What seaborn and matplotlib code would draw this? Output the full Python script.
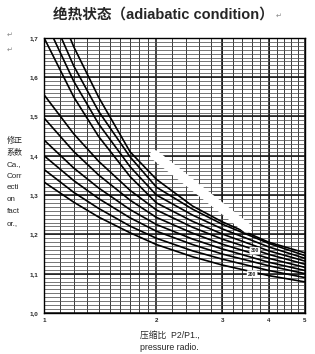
import numpy as np
import pandas as pd
import matplotlib
import matplotlib.pyplot as plt
import seaborn as sns
from matplotlib.ticker import FixedLocator, NullFormatter

matplotlib.use('Agg')

# pressure ratio P2/P1 where the curves were read
ratio = [1.0, 1.2, 1.4, 1.7, 2.0, 2.5, 3.0, 4.0, 5.0]

# correction factor curves (top to bottom)
curve_a = [1.860, 1.678, 1.549, 1.410, 1.340, 1.272, 1.232, 1.180, 1.153]
curve_b = [1.800, 1.629, 1.513, 1.397, 1.320, 1.264, 1.226, 1.177, 1.146]
curve_c = [1.750, 1.590, 1.481, 1.372, 1.300, 1.249, 1.214, 1.168, 1.139]
curve_d = [1.700, 1.550, 1.449, 1.347, 1.280, 1.233, 1.201, 1.158, 1.132]
curve_e = [1.555, 1.456, 1.386, 1.312, 1.262, 1.218, 1.188, 1.149, 1.124]
curve_f = [1.496, 1.411, 1.351, 1.287, 1.243, 1.203, 1.175, 1.139, 1.116]
curve_g = [1.440, 1.369, 1.318, 1.263, 1.225, 1.188, 1.163, 1.129, 1.108]
curve_h = [1.400, 1.337, 1.291, 1.242, 1.208, 1.174, 1.150, 1.120, 1.100]
curve_i = [1.365, 1.307, 1.266, 1.221, 1.190, 1.158, 1.137, 1.108, 1.090]
curve_j = [1.333, 1.282, 1.244, 1.204, 1.174, 1.143, 1.122, 1.095, 1.079]

curves = {'a': curve_a, 'b': curve_b, 'c': curve_c, 'd': curve_d, 'e': curve_e,
          'f': curve_f, 'g': curve_g, 'h': curve_h, 'i': curve_i, 'j': curve_j}

# little boxed labels on the curves
label_text = ['300', '200']
label_x = [3.67, 3.61]
label_y = [1.158, 1.099]

# white erased streak on the scan
streak_x = [1.98, 3.50]
streak_y = [1.402, 1.216]

x_ticks = [1, 2, 3, 4, 5]
y_ticks = [1.0, 1.1, 1.2, 1.3, 1.4, 1.5, 1.6, 1.7]
y_tick_labels = ['1,0', '1,1', '1,2', '1,3', '1,4', '1,5', '1,6', '1,7']

rows = []
for name, vals in curves.items():
    for x, y in zip(ratio, vals):
        rows.append([name, x, y])
data = pd.DataFrame(rows, columns=['curve', 'ratio', 'factor'])

sns.set_style('white')
plt.rcParams['font.family'] = ['Liberation Sans', 'Noto Sans CJK SC', 'DejaVu Sans']

fig = plt.figure(figsize=(3.15, 3.54), dpi=100)
ax = fig.add_axes([0.14, 0.116, 0.828, 0.777])
ax.set_xscale('log')
ax.set_xlim(1, 5)
ax.set_ylim(1.0, 1.7)

# graph paper
minor_x = list(np.arange(1.1, 2.0, 0.1)) + list(np.arange(2.2, 5.0, 0.2))
for v in minor_x:
    ax.axvline(v, color='#3a3a3a', lw=0.7, zorder=1)
for v in x_ticks:
    ax.axvline(v, color='#111111', lw=1.1, zorder=1)
for v in np.arange(1.0, 1.7, 0.01):
    ax.axhline(v, color='#505050', lw=0.55, zorder=1)
for v in y_ticks:
    ax.axhline(v, color='#111111', lw=1.1, zorder=1)

sns.lineplot(data=data, x='ratio', y='factor', units='curve', estimator=None,
             color='black', lw=1.2, ax=ax, zorder=3)

ax.plot(streak_x, streak_y, color='white', lw=7, solid_capstyle='round', zorder=4)

for t, x, y in zip(label_text, label_x, label_y):
    ax.text(x, y, t, fontsize=3.5, fontweight='bold', ha='center', va='center', zorder=5,
            bbox=dict(boxstyle='round,pad=0.25', fc='white', ec='none'))

ax.xaxis.set_major_locator(FixedLocator(x_ticks))
ax.xaxis.set_minor_locator(FixedLocator([]))
ax.xaxis.set_minor_formatter(NullFormatter())
ax.set_xticklabels([str(v) for v in x_ticks], fontsize=4.5, fontweight='bold')
ax.set_yticks(y_ticks)
ax.set_yticklabels(y_tick_labels, fontsize=4.5, fontweight='bold')
ax.tick_params(length=0, pad=4)
ax.set_xlabel('')
ax.set_ylabel('')
for s in ax.spines.values():
    s.set_color('black')
    s.set_linewidth(1.0)

fig.text(0.52, 0.958, '绝热状态（adiabatic condition）', fontsize=10.5, fontweight='bold',
         ha='center', va='center')
fig.text(0.885, 0.955, '↵', fontsize=5, color='#888888', ha='center', va='center')
fig.text(0.03, 0.9, '↵', fontsize=5, color='#888888', ha='center', va='center')
fig.text(0.03, 0.858, '↵', fontsize=5, color='#888888', ha='center', va='center')

side_lines = ['修正', '系数', 'Ca.,', 'Corr', 'ecti', 'on', 'fact', 'or.,']
for k, s in enumerate(side_lines):
    fig.text(0.022, 0.602 - k * 0.0332, s, fontsize=5.8, ha='left', va='center')

fig.text(0.445, 0.054, '压缩比  P2/P1.,', fontsize=6.3, ha='left', va='center')
fig.text(0.445, 0.017, 'pressure radio.', fontsize=6.3, ha='left', va='center')

fig.savefig('out.png', dpi=100)
